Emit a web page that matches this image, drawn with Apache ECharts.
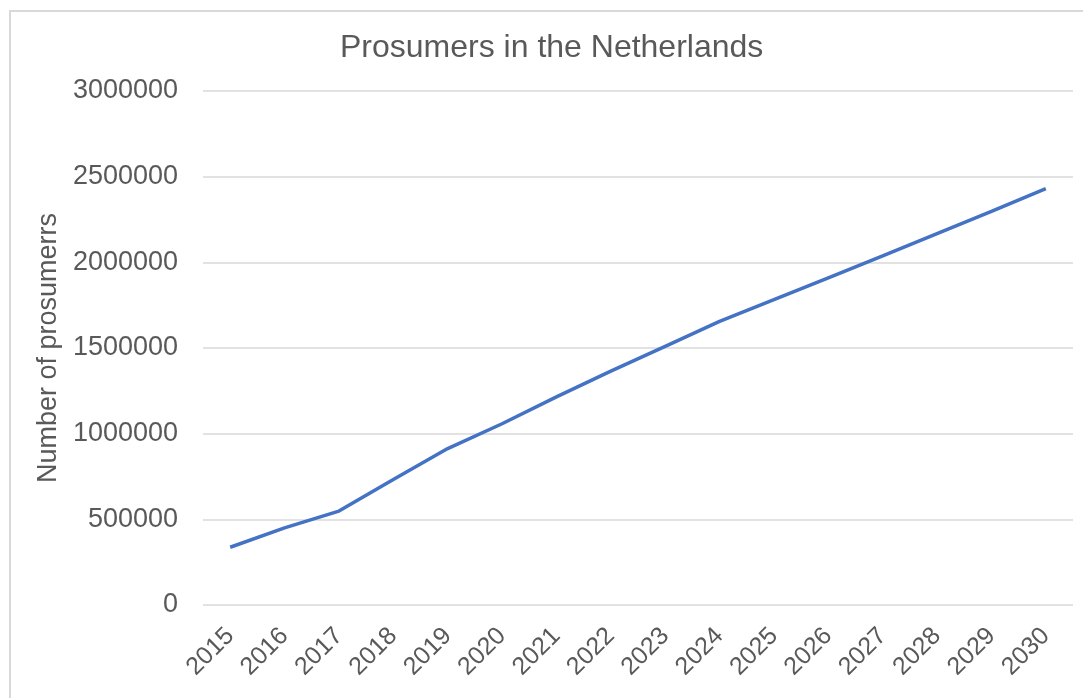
<!DOCTYPE html>
<html>
<head>
<meta charset="utf-8">
<title>Prosumers in the Netherlands</title>
<script src="https://cdn.jsdelivr.net/npm/echarts@6/dist/echarts.min.js"></script>
<style>
    html, body {
        margin: 0;
        padding: 0;
        background: #fff;
    }
    #chartContainer {
        width: 1083px;
        height: 698px;
    }
</style>
</head>
<body>
<div id="chartContainer"></div>
<script>
// 年份
var years = ['2015', '2016', '2017', '2018', '2019', '2020', '2021', '2022',
    '2023', '2024', '2025', '2026', '2027', '2028', '2029', '2030'];
// prosumers 数量
var prosumers = [337000, 450000, 548000, 733000, 913000, 1058000, 1215000, 1365000,
    1510000, 1655000, 1782000, 1910000, 2038000, 2168000, 2298000, 2430000];
var yTicks = [0, 500000, 1000000, 1500000, 2000000, 2500000, 3000000];

var ChartModule = (function (window, document, echarts) {
    var textColor = '#595959';
    var fontName = '"Liberation Sans", Arial, sans-serif';

    function initEcharts() {
        var option = {
            backgroundColor: '#fff',
            title: {
                show: true,
                text: 'Prosumers in the Netherlands',
                left: 335,
                top: 27,
                textStyle: {
                    fontSize: 32,
                    fontWeight: 'normal',
                    color: textColor,
                    fontFamily: fontName
                }
            },
            // 外框
            graphic: [{
                type: 'rect',
                shape: { x: 10, y: 11, width: 1090, height: 700 },
                style: { fill: 'none', stroke: '#d9d9d9', lineWidth: 2 }
            }],
            grid: {
                left: 203,
                right: 10,
                top: 91,
                bottom: 93,
                containLabel: false
            },
            xAxis: [{
                type: 'category',
                data: years,
                boundaryGap: true,
                axisLine: { show: false },
                axisTick: { show: false },
                axisLabel: {
                    show: true,
                    rotate: 45,
                    margin: 27,
                    interval: 0,
                    fontSize: 25,
                    color: textColor,
                    fontFamily: fontName
                }
            }],
            yAxis: [{
                type: 'value',
                min: yTicks[0],
                max: yTicks[yTicks.length - 1],
                interval: 500000,
                name: 'Number of prosumerrs',
                nameLocation: 'middle',
                nameGap: 137,
                nameTextStyle: {
                    fontSize: 27,
                    color: textColor,
                    fontFamily: fontName
                },
                axisLine: { show: false },
                axisTick: { show: false },
                axisLabel: {
                    margin: 25,
                    fontSize: 27,
                    color: textColor,
                    fontFamily: fontName,
                    formatter: function (value) {
                        return String(value);
                    }
                },
                splitLine: {
                    lineStyle: {
                        color: '#d9d9d9',
                        width: 1.5
                    }
                }
            }],
            series: [{
                name: 'Prosumers',
                type: 'line',
                data: prosumers,
                showSymbol: false,
                smooth: false,
                lineStyle: {
                    color: '#4472c4',
                    width: 3.5
                }
            }]
        };
        var chart = echarts.init(document.querySelector('#chartContainer'));
        chart.setOption(option);
    }

    return {
        init: function () {
            initEcharts();
        }
    };
})(window, document, echarts);
ChartModule.init();
</script>
</body>
</html>
